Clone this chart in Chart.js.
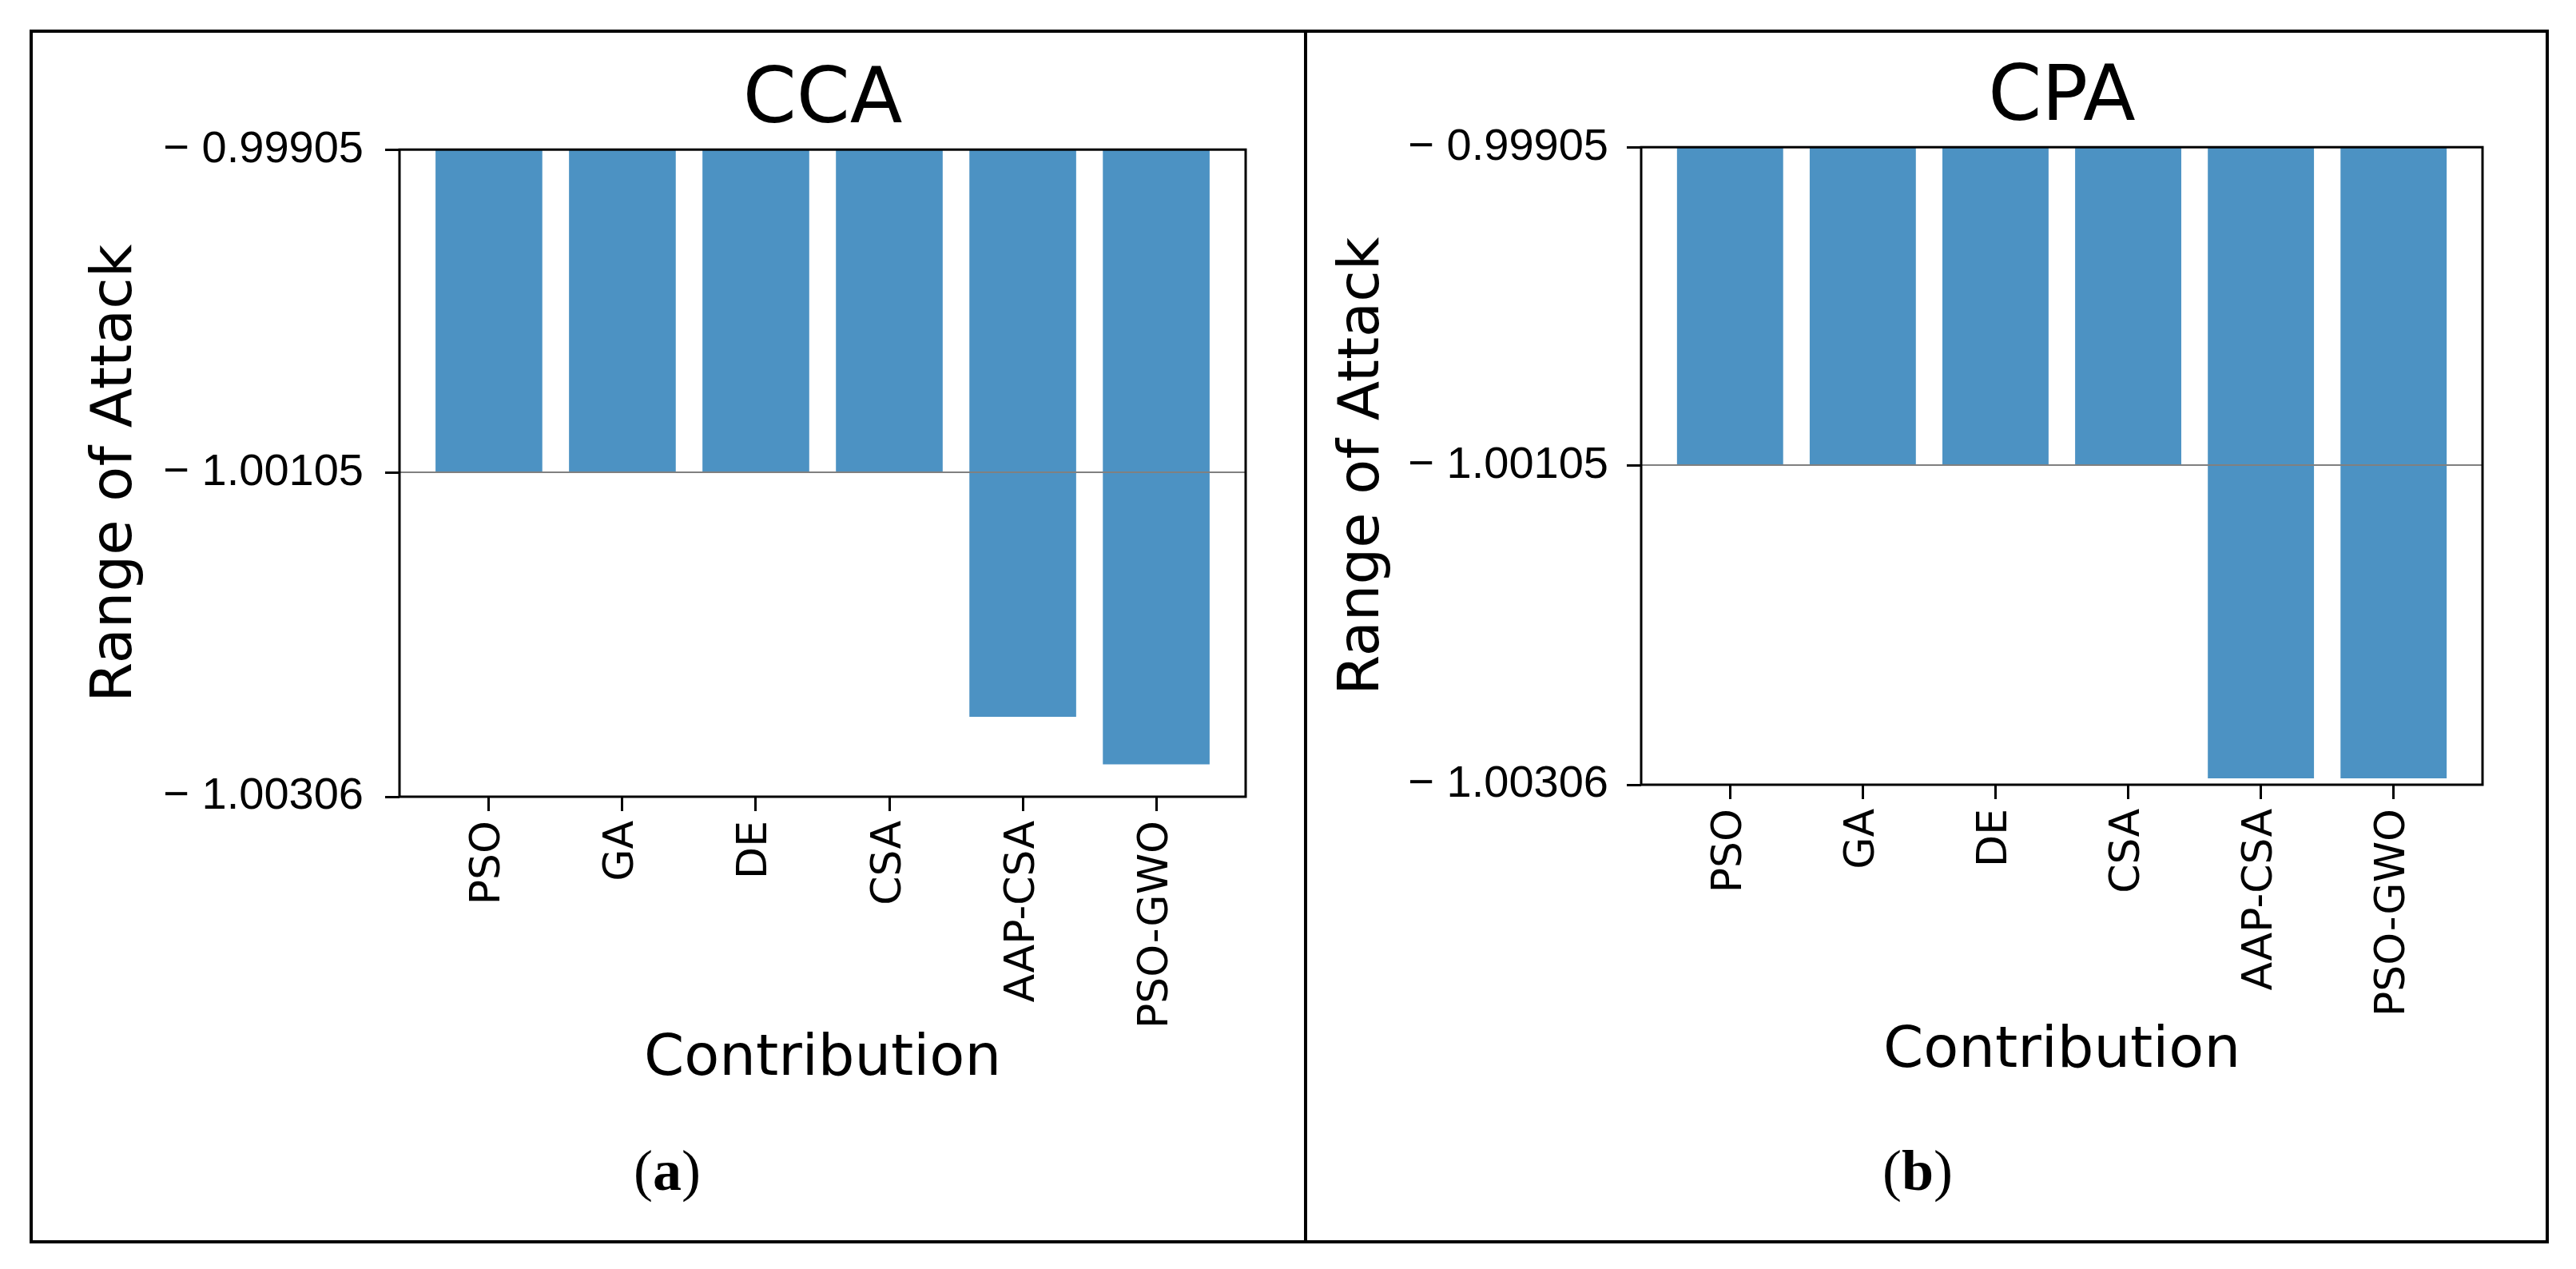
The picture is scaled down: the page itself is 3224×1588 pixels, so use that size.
<!DOCTYPE html>
<html>
<head>
<meta charset="utf-8">
<script src="https://cdn.jsdelivr.net/npm/chart.js@4.4.1/dist/chart.umd.min.js"></script>
<style>
  body { margin: 0; background: #fff; width: 3224px; height: 1588px; position: relative; overflow: hidden; }
  .frame { position: absolute; left: 37px; top: 37px; width: 3145px; height: 1511px; border: 4px solid #000; }
  .divider { position: absolute; left: 1632px; top: 37px; width: 4px; height: 1519px; background: #000; }
  canvas { position: absolute; }
  .caption { position: absolute; top: 1424px; width: 300px; text-align: center; font-family: "Liberation Serif", "DejaVu Serif", serif; font-size: 72px; color: #000; }
</style>
</head>
<body>
<div class="frame"></div>
<div class="divider"></div>
<canvas id="ccaChart" width="1590" height="1340" style="left:40px; top:40px;"></canvas>
<canvas id="cpaChart" width="1540" height="1340" style="left:1640px; top:40px;"></canvas>
<div class="caption" style="left:685px;">(<b>a</b>)</div>
<div class="caption" style="left:2250px;">(<b>b</b>)</div>

<script>
// methods on the x axis
const methods = ["PSO", "GA", "DE", "CSA", "AAP-CSA", "PSO-GWO"];
// range of attack
const ccaValues = [-1.00105, -1.00105, -1.00105, -1.00105, -1.002565, -1.00286];
const cpaValues = [-1.00105, -1.00105, -1.00105, -1.00105, -1.00302, -1.00302];
// y tick labels as printed
const yTickValues = [-0.99905, -1.00105, -1.00306];

const barColor = "rgba(31, 119, 180, 0.8)";

// box round the plot + the grey line at the middle tick (drawn over the bars)
const axesBox = {
  id: "axesBox",
  afterDatasetsDraw(chart) {
    const { ctx, chartArea } = chart;
    const y = chart.scales.y.getPixelForValue(yTickValues[1]);
    ctx.save();
    ctx.strokeStyle = "#808080";
    ctx.lineWidth = 2;
    ctx.beginPath();
    ctx.moveTo(chartArea.left, y);
    ctx.lineTo(chartArea.right, y);
    ctx.stroke();
    ctx.strokeStyle = "#000";
    ctx.lineWidth = 3;
    ctx.strokeRect(chartArea.left, chartArea.top, chartArea.right - chartArea.left, chartArea.bottom - chartArea.top);
    ctx.restore();
  },
};

function makePanel(id, title, values, p) {
  const ctx = document.getElementById(id).getContext("2d");
  return new Chart(ctx, {
    type: "bar",
    data: {
      datasets: [
        {
          data: values.map((v, i) => ({ x: i, y: v })),
          backgroundColor: barColor,
          borderWidth: 0,
          barPercentage: 0.8,
          categoryPercentage: 1,
          clip: 0,
        },
      ],
    },
    plugins: [axesBox],
    options: {
      responsive: false,
      animation: false,
      devicePixelRatio: 1,
      layout: { padding: { left: 0, right: p.right, top: 0, bottom: 0 } },
      plugins: {
        legend: { display: false },
        tooltip: { enabled: false },
        title: {
          display: true,
          text: title,
          fullSize: false,
          color: "#000",
          font: { family: "DejaVu Sans", size: 96, weight: "normal" },
          padding: { top: p.titleTop, bottom: 2 },
        },
      },
      scales: {
        x: {
          type: "linear",
          offset: false,
          min: -0.67,
          max: 5.67,
          afterBuildTicks: (s) => {
            s.ticks = methods.map((m, i) => ({ value: i }));
          },
          afterFit: (s) => {
            s.height = p.xHeight;
          },
          border: { display: false },
          grid: { offset: false, drawOnChartArea: false, tickLength: 18, tickWidth: 3, tickColor: "#000" },
          ticks: {
            autoSkip: false,
            minRotation: 90,
            maxRotation: 90,
            padding: 12,
            color: "#000",
            font: { family: "DejaVu Sans", size: 52 },
            callback: (v) => methods[v],
          },
          title: {
            display: true,
            text: "Contribution",
            color: "#000",
            font: { family: "DejaVu Sans", size: 72 },
            padding: { top: 0, bottom: p.xTitleBottom },
          },
        },
        y: {
          min: yTickValues[2],
          max: yTickValues[0],
          afterBuildTicks: (s) => {
            s.ticks = yTickValues.map((v) => ({ value: v }));
          },
          afterFit: (s) => {
            s.width = p.yWidth;
          },
          border: { display: false },
          grid: { drawOnChartArea: false, tickLength: 18, tickWidth: 3, tickColor: "#000" },
          ticks: {
            padding: p.yPad,
            color: "#000",
            font: { family: "Liberation Sans", size: 56 },
            callback: (v) => "\u2212 " + Math.abs(v).toFixed(5),
          },
          title: {
            display: true,
            text: "Range of Attack",
            color: "#000",
            font: { family: "DejaVu Sans", size: 72 },
            padding: { top: p.yTitleTop, bottom: 0 },
          },
        },
      },
    },
  });
}

makePanel("ccaChart", "CCA", ccaValues, {
  right: 71, yWidth: 460, xHeight: 383, titleTop: 30, yPad: 27, yTitleTop: 62, xTitleBottom: 11,
});
makePanel("cpaChart", "CPA", cpaValues, {
  right: 73, yWidth: 414, xHeight: 398, titleTop: 27, yPad: 23, yTitleTop: 23, xTitleBottom: 21,
});
</script>
</body>
</html>
